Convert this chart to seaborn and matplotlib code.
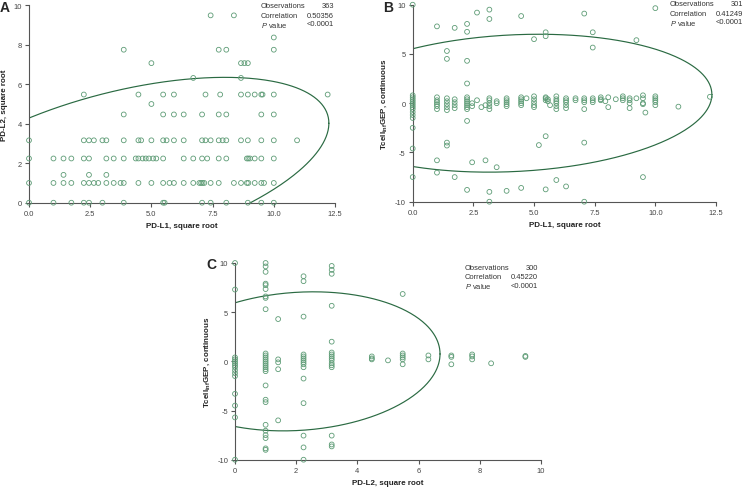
import numpy as np
import pandas as pd
import matplotlib
matplotlib.use("Agg")
import matplotlib.pyplot as plt
import seaborn as sns

# -----------------------------------------------------------
# DATA
# -----------------------------------------------------------
# Panel A: PD-L2 (y levels) vs PD-L1 (x values on each level)
A_PDL2_LEVELS = [9.49, 8.37, 7.75, 7.07, 6.32, 5.48, 5.0, 4.47, 3.16, 2.24, 1.41, 1.0, 0.0]
A_PDL1_ON_LEVEL = [
    [7.42, 8.37],
    [10.0],
    [3.87, 7.75, 8.06, 10.0],
    [5.0, 8.66, 8.8, 8.94],
    [6.71, 8.66],
    [2.24, 4.47, 5.48, 5.92, 7.21, 7.81, 8.66, 8.94, 9.22, 9.49, 9.54, 10.0, 12.2],
    [5.0],
    [3.87, 5.48, 5.92, 6.32, 7.07, 7.75, 8.06, 9.49, 10.0],
    [0.0, 2.24, 2.45, 2.65, 3.0, 3.16, 3.87, 4.47, 4.58, 5.0, 5.48, 5.62, 5.92, 6.32,
     7.07, 7.21, 7.42, 7.75, 7.91, 8.06, 8.66, 8.94, 9.49, 10.0, 10.95],
    [0.0, 1.0, 1.41, 1.73, 2.24, 2.45, 3.16, 3.46, 3.87, 4.36, 4.47, 4.64, 4.77, 4.9,
     5.07, 5.2, 5.48, 6.32, 6.71, 7.07, 7.28, 7.75, 8.06, 8.9, 8.96, 9.03, 9.22, 9.49, 10.0],
    [1.41, 2.45, 3.16],
    [0.0, 1.0, 1.41, 1.73, 2.24, 2.45, 2.65, 2.83, 3.16, 3.46, 3.74, 3.87, 4.47, 5.0,
     5.48, 5.74, 5.92, 6.32, 6.71, 6.96, 7.03, 7.09, 7.16, 7.42, 7.75, 8.37, 8.66, 8.9,
     8.96, 9.22, 9.49, 9.6, 10.0],
    [0.0, 1.0, 1.73, 2.24, 2.45, 3.0, 3.87, 5.48, 5.54, 7.07, 7.42, 8.06, 8.94, 9.49, 10.0],
]

# Panel B: Tcell GEP (y values) for each PD-L1 column
B_PDL1_COLS = [0.0, 1.0, 1.41, 1.73, 2.24, 2.45, 2.65, 2.83, 3.0, 3.16, 3.46, 3.87, 4.47,
               4.69, 5.0, 5.2, 5.48, 5.57, 5.66, 5.92, 6.32, 6.71, 7.07, 7.42, 7.75, 7.94,
               8.06, 8.37, 8.66, 8.94, 9.22, 9.49, 9.59, 10.0, 10.95, 12.25]
B_GEP_IN_COL = [
    [10.0, 0.8, 0.6, 0.4, 0.2, 0.0, -0.2, -0.4, -0.6, -0.9, -1.2, -1.5, -2.5, -4.6, -7.5],
    [7.8, 0.6, 0.3, 0.1, -0.1, -0.3, -0.6, -5.8, -7.05],
    [5.3, 4.5, 0.5, 0.2, -0.1, -0.4, -0.7, -4.0, -4.3],
    [7.65, 0.4, 0.1, -0.2, -0.5, -7.5],
    [8.05, 7.25, 4.3, 2.0, 0.6, 0.4, 0.2, 0.0, -0.2, -0.4, -0.6, -1.8, -8.8],
    [0.0, -0.3, -6.0],
    [9.2, 0.3],
    [-0.4],
    [-0.2, -5.8],
    [9.5, 8.55, 0.5, 0.3, 0.0, -0.3, -0.6, -9.0, -10.0],
    [0.2, 0.0, -6.5],
    [0.5, 0.3, 0.1, -0.1, -0.3, -8.9],
    [8.85, 0.6, 0.4, 0.2, 0.0, -0.2, -8.6],
    [0.5],
    [6.5, 0.7, 0.4, 0.1, -0.2, -0.4],
    [-4.25],
    [7.2, 6.8, 0.6, 0.5, 0.3, -3.35, -8.75],
    [0.4, 0.2],
    [-0.2],
    [0.7, 0.4, 0.2, 0.0, -0.3, -0.6, -7.8],
    [0.5, 0.3, 0.1, -0.2, -0.5, -8.45],
    [0.5, 0.3],
    [9.1, 0.5, 0.3, 0.1, -0.6, -4.0, -10.0],
    [7.2, 5.65, 0.5, 0.3, 0.1],
    [0.6, 0.4, 0.3],
    [0.2],
    [0.6, -0.4],
    [0.4],
    [0.7, 0.5, 0.3],
    [0.5, 0.3, 0.0, -0.5],
    [6.4, 0.5],
    [0.8, 0.5, 0.0, -0.1, -7.5],
    [-0.95],
    [9.65, 0.7, 0.5, 0.3, 0.1, -0.2],
    [-0.35],
    [0.65],
]

# Panel C: Tcell GEP (y values) for each PD-L2 column
C_PDL2_COLS = [0.0, 1.0, 1.41, 2.24, 3.16, 4.47, 5.0, 5.48, 6.32, 7.07, 7.75, 8.37, 9.49]
C_GEP_IN_COL = [
    [10.0, 7.3, 0.4, 0.2, 0.0, -0.2, -0.4, -0.6, -0.9, -1.2, -1.5, -3.3, -4.5, -5.7, -10.0],
    [10.0, 9.65, 9.1, 7.9, 7.75, 7.35, 6.6, 6.45, 5.3, 0.8, 0.6, 0.4, 0.2, 0.0, -0.2, -0.4,
     -0.6, -0.8, -1.0, -2.45, -3.9, -4.15, -6.45, -7.05, -7.5, -7.8, -8.85, -9.0],
    [4.3, 0.2, -0.1, -0.8, -6.0],
    [8.65, 8.15, 4.55, 0.7, 0.5, 0.3, 0.1, -0.1, -0.3, -0.6, -1.75, -4.25, -7.55, -8.75, -10.0],
    [9.7, 9.3, 8.9, 5.65, 2.0, 0.9, 0.7, 0.5, 0.3, 0.1, -0.2, -0.4, -0.6, -7.55, -8.45, -8.65],
    [0.5, 0.3, 0.2],
    [0.1],
    [6.85, 0.8, 0.6, 0.4, 0.2, -0.3],
    [0.6, 0.2],
    [0.6, 0.45, -0.3],
    [0.7, 0.5, 0.2],
    [-0.2],
    [0.55, 0.45],
]

# confidence ellipses: centre x, centre y, half-extent x, half-extent y, correlation
ELLIPSE_A = (3.75, 1.7, 8.5, 4.65, 0.50)
ELLIPSE_B = (4.16, 0.0, 8.17, 7.0, 0.126)
ELLIPSE_C = (2.07, 0.0, 4.63, 7.07, 0.106)

STATS_A = ("363", "0.50356", "<0.0001")
STATS_B = ("301", "0.41249", "<0.0001")
STATS_C = ("300", "0.45220", "<0.0001")


def flatten(levels, values_per_level):
    # returns (level repeated, value) pairs as two flat lists
    lev_out, val_out = [], []
    for lev, vals in zip(levels, values_per_level):
        lev_out += [lev] * len(vals)
        val_out += list(vals)
    return lev_out, val_out


a_y, a_x = flatten(A_PDL2_LEVELS, A_PDL1_ON_LEVEL)
b_x, b_y = flatten(B_PDL1_COLS, B_GEP_IN_COL)
c_x, c_y = flatten(C_PDL2_COLS, C_GEP_IN_COL)

df_a = pd.DataFrame({"x": a_x, "y": a_y})
df_b = pd.DataFrame({"x": b_x, "y": b_y})
df_c = pd.DataFrame({"x": c_x, "y": c_y})

# -----------------------------------------------------------
# STYLE
# -----------------------------------------------------------
sns.set_style("ticks")
plt.rcParams["font.family"] = ["Liberation Sans", "DejaVu Sans"]
plt.rcParams["mathtext.fontset"] = "custom"
plt.rcParams["mathtext.rm"] = "Liberation Sans"
plt.rcParams["mathtext.it"] = "Liberation Sans:italic"
plt.rcParams["mathtext.bf"] = "Liberation Sans:bold"

POINT = "#5e9c76"
LINE = "#2a6a42"
AXIS = "#555555"
W, H = 744, 489

fig = plt.figure(figsize=(7.44, 4.89), dpi=100)


def px_axes(left, top, right, bottom):
    return fig.add_axes([left / W, 1 - bottom / H, (right - left) / W, (bottom - top) / H])


def draw_panel(ax, df, ell, xlim, ylim, xticks, yticks, xfmt, xlabel, ylabel):
    sns.scatterplot(data=df, x="x", y="y", ax=ax, s=12, marker="o",
                    facecolor="none", edgecolor=POINT, linewidth=0.6,
                    clip_on=False, zorder=3)
    cx, cy, sx, sy, r = ell
    t = np.linspace(0, 2 * np.pi, 500)
    ex = cx + sx * np.cos(t)
    ey = cy + sy * (r * np.cos(t) + np.sqrt(1 - r ** 2) * np.sin(t))
    ax.plot(ex, ey, color=LINE, lw=0.85, zorder=2)
    ax.set_xlim(*xlim)
    ax.set_ylim(*ylim)
    ax.set_xticks(xticks)
    ax.set_xticklabels([xfmt.format(v) for v in xticks])
    ax.set_yticks(yticks)
    ax.set_yticklabels([str(v) for v in yticks])
    for side in ["top", "right"]:
        ax.spines[side].set_visible(False)
    for side in ["left", "bottom"]:
        ax.spines[side].set_color(AXIS)
        ax.spines[side].set_linewidth(0.8)
    ax.tick_params(length=3, width=0.8, color=AXIS, labelsize=5.4,
                   labelcolor="#444444", pad=2)
    ax.set_xlabel(xlabel, fontsize=5.8, fontweight="bold", labelpad=4, color="#222222")
    ax.set_ylabel(ylabel, fontsize=5.8, fontweight="bold", labelpad=4, color="#222222")


def stats_box(left, right, top, values):
    names = ["Observations", "Correlation", "$P$ value"]
    for i, (name, val) in enumerate(zip(names, values)):
        y = 1 - (top + 9 * i) / H
        fig.text(left / W, y, name, fontsize=5.4, va="center", ha="left", color="#333333")
        fig.text(right / W, y, val, fontsize=5.4, va="center", ha="right", color="#333333")


ax_a = px_axes(29, 6.3, 335, 203.7)
draw_panel(ax_a, df_a, ELLIPSE_A, (0, 12.5), (0, 10),
           [0, 2.5, 5.0, 7.5, 10.0, 12.5], [0, 2, 4, 6, 8, 10], "{:.1f}",
           "PD-L1, square root", "PD-L2, square root")

ax_b = px_axes(412.7, 5.7, 716, 202.7)
draw_panel(ax_b, df_b, ELLIPSE_B, (0, 12.5), (-10, 10),
           [0, 2.5, 5.0, 7.5, 10.0, 12.5], [-10, -5, 0, 5, 10], "{:.1f}",
           "PD-L1, square root", r"Tcell$_{\mathbf{inf}}$GEP, continuous")

ax_c = px_axes(235, 264, 541, 460.7)
draw_panel(ax_c, df_c, ELLIPSE_C, (0, 10), (-10, 10),
           [0, 2, 4, 6, 8, 10], [-10, -5, 0, 5, 10], "{:.0f}",
           "PD-L2, square root", r"Tcell$_{\mathbf{inf}}$GEP, continuous")

stats_box(261, 334, 7, STATS_A)
stats_box(670, 743, 5, STATS_B)
stats_box(465, 538, 269, STATS_C)

fig.text(0 / W, 1 - 8 / H, "A", fontsize=10, fontweight="bold", va="center", ha="left")
fig.text(383 / W, 1 - 8 / H, "B", fontsize=10, fontweight="bold", va="center", ha="left")
fig.text(206 / W, 1 - 265 / H, "C", fontsize=10, fontweight="bold", va="center", ha="left")

fig.savefig("out.png", dpi=100)
plt.close(fig)
